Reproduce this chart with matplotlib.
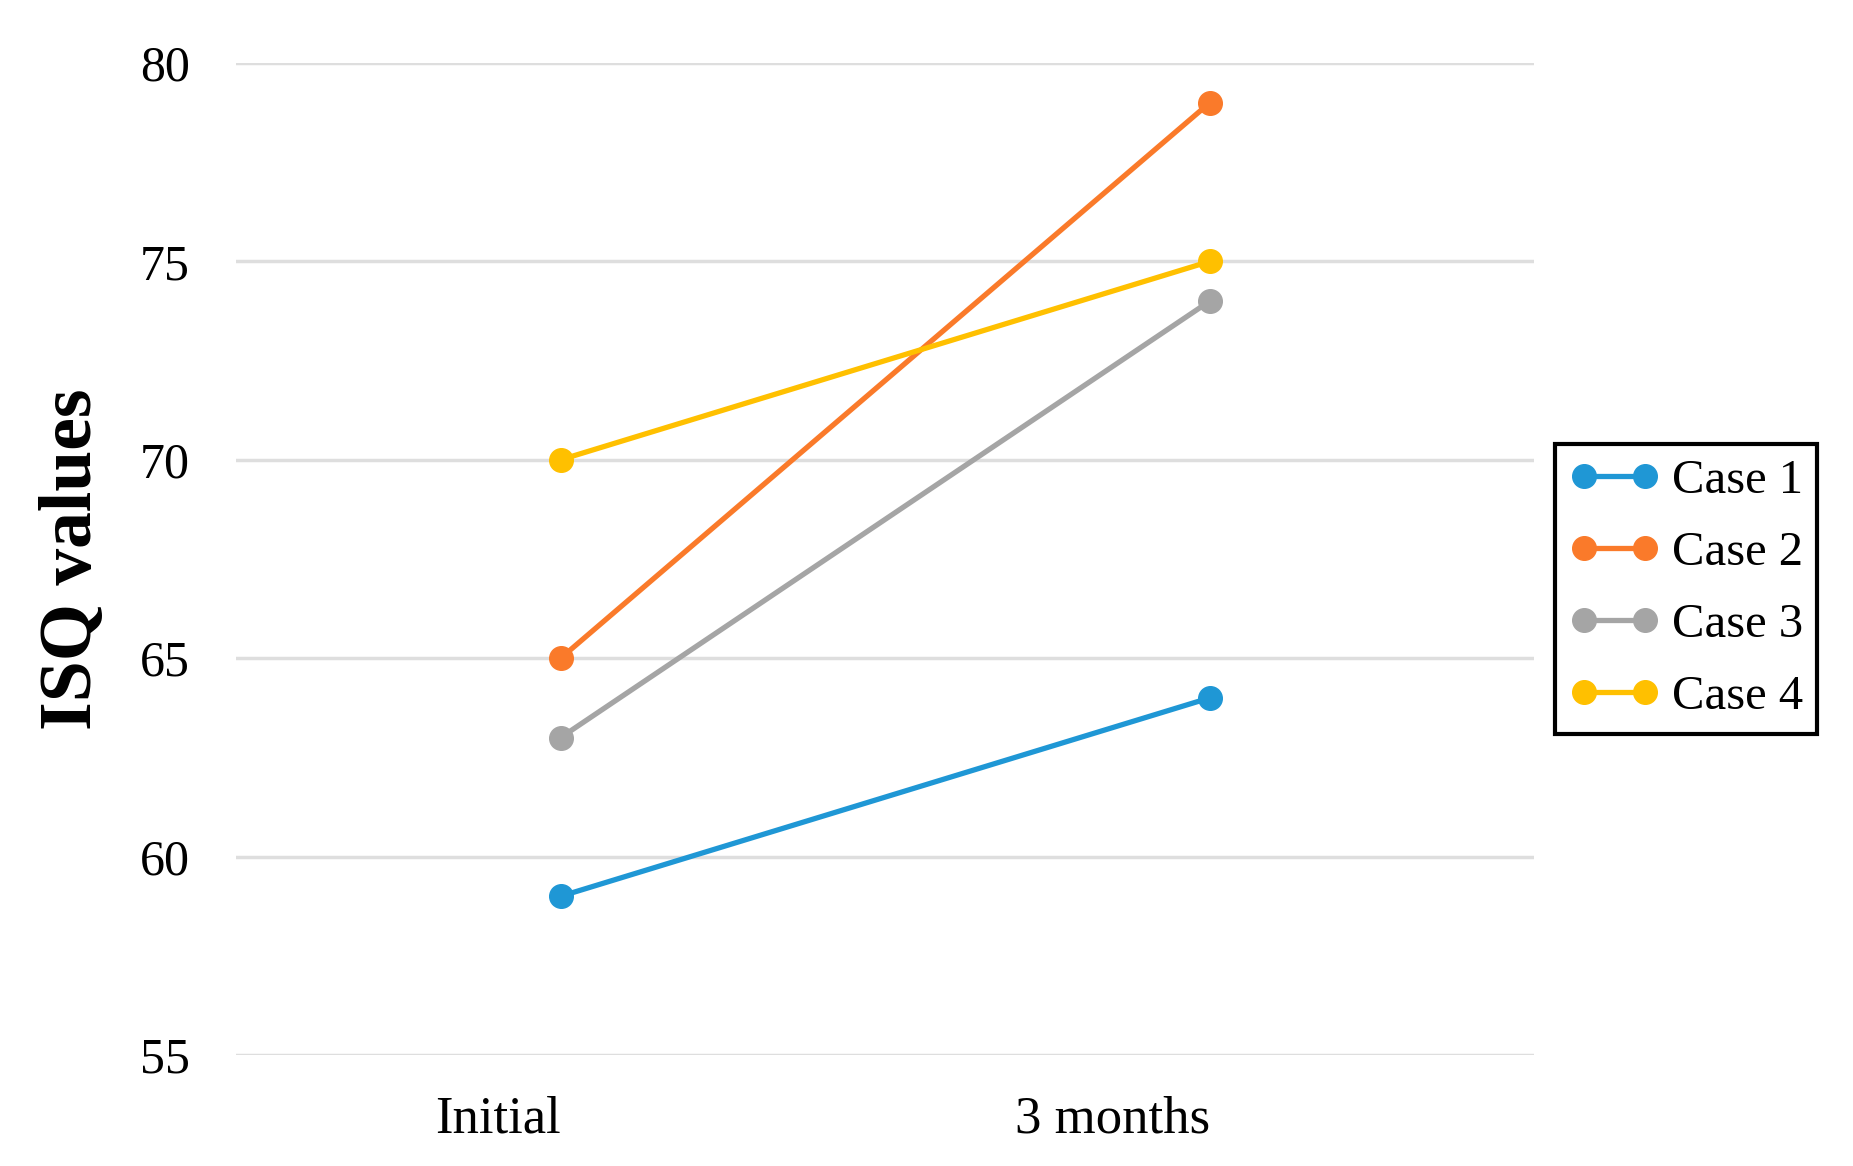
import matplotlib
matplotlib.use("Agg")
import matplotlib.pyplot as plt
import matplotlib.transforms as mtransforms

# data
timepoints = ["Initial", "3 months"]
case1 = [59, 64]
case2 = [65, 79]
case3 = [63, 74]
case4 = [70, 75]
case_names = ["Case 1", "Case 2", "Case 3", "Case 4"]
yticks = [55, 60, 65, 70, 75, 80]

colors = ["#1f97d5", "#fa7a2a", "#a5a5a5", "#ffc000"]

plt.rcParams['font.family'] = ['Liberation Serif', 'DejaVu Serif']

fig = plt.figure(figsize=(18.53, 11.66), dpi=100)
ax = fig.add_axes([0.1274, 0.0952, 0.8281 - 0.1274, 0.946 - 0.0952])

xs = list(range(len(timepoints)))
for vals, name, c in zip([case1, case2, case3, case4], case_names, colors):
    ax.plot(xs, vals, color=c, lw=3.8, marker='o', markersize=17, label=name,
            solid_capstyle='round', zorder=3)

ax.set_xlim(-0.5, 1.5)
ax.set_ylim(55, 80)
ax.set_yticks(yticks)
ax.grid(axis='y', color='#dedede', lw=2.5, zorder=0)
for s in ax.spines.values():
    s.set_visible(False)
ax.tick_params(axis='y', length=0, labelsize=36, pad=33)
ax.tick_params(axis='x', length=0, labelsize=38, pad=29)
ax.set_xticks(xs)
ax.set_xticklabels(timepoints)
# the category labels sit left of the points in the original
shifts = [-63, -97]
for lab, dx in zip(ax.get_xticklabels(), shifts):
    lab.set_transform(lab.get_transform() + mtransforms.Affine2D().translate(dx, 0))

ax.set_ylabel("ISQ values", fontsize=53, fontweight='bold', labelpad=24)

leg = fig.legend(loc='upper left', bbox_to_anchor=(1555 / 1853, 1 - 444 / 1166),
                 bbox_transform=fig.transFigure, fontsize=35, numpoints=2,
                 handlelength=1.85, handletextpad=0.25, labelspacing=0.58,
                 borderpad=0.3, borderaxespad=0, fancybox=False, framealpha=1)
leg.get_frame().set_edgecolor('black')
leg.get_frame().set_linewidth(3)

fig.savefig("out.png", dpi=100)
